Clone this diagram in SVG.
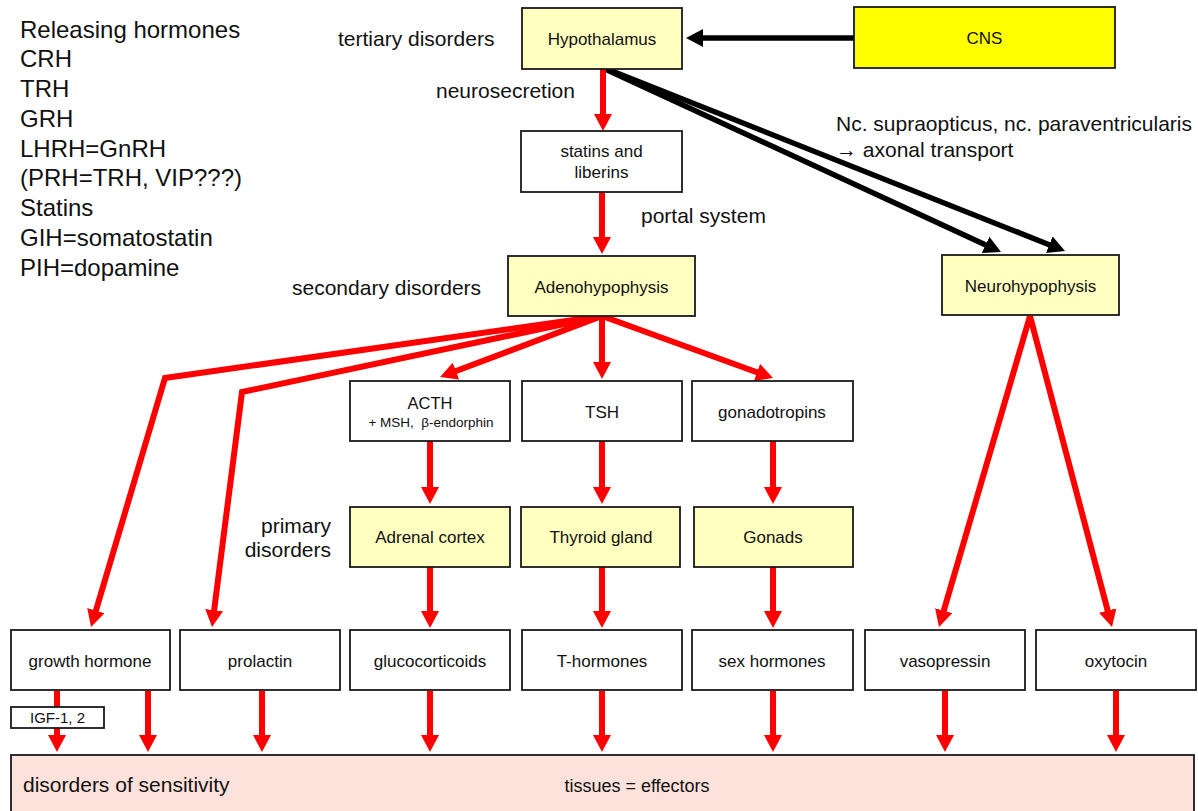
<svg xmlns="http://www.w3.org/2000/svg" width="1198" height="811" viewBox="0 0 1198 811">
<style>
text{font-family:"Liberation Sans",Arial,sans-serif;fill:#111}
.box{fill:#fff;stroke:#1a1a1a;stroke-width:1.8}
.yel{fill:#ffffc0;stroke:#1a1a1a;stroke-width:1.8}
.cns{fill:#ffff00;stroke:#1a1a1a;stroke-width:1.8}
.pink{fill:#fde2db;stroke:#1a1a1a;stroke-width:1.8}
.nt{font-size:17px;text-anchor:middle}
.lbl{font-size:21px}
.big{font-size:24px}
.red{fill:none;stroke:#ff0000;stroke-width:6;marker-end:url(#ar)}
.blk{fill:none;stroke:#000;stroke-width:5.5;marker-end:url(#ab)}
</style>
<defs>
<marker id="ar" markerUnits="userSpaceOnUse" markerWidth="18" markerHeight="18" refX="2" refY="9" orient="auto" viewBox="0 0 18 18">
<path d="M0,0 L17,9 L0,18 z" fill="#ff0000"/>
</marker>
<marker id="ab" markerUnits="userSpaceOnUse" markerWidth="18" markerHeight="18" refX="2" refY="9" orient="auto" viewBox="0 0 18 18">
<path d="M0,0 L17,9 L0,18 z" fill="#000"/>
</marker>
</defs>
<rect width="1198" height="811" fill="#fff"/>

<g id="labels">
<text class="big" x="20" y="37.5">Releasing hormones</text>
<text class="big" x="20" y="67.3">CRH</text>
<text class="big" x="20" y="97">TRH</text>
<text class="big" x="20" y="127">GRH</text>
<text class="big" x="20" y="156.5">LHRH=GnRH</text>
<text class="big" x="20" y="186">(PRH=TRH, VIP???)</text>
<text class="big" x="20" y="216">Statins</text>
<text class="big" x="20" y="246">GIH=somatostatin</text>
<text class="big" x="20" y="275.5">PIH=dopamine</text>
<text class="lbl" x="338" y="46">tertiary disorders</text>
<text class="lbl" x="436" y="98">neurosecretion</text>
<text class="lbl" x="641" y="223">portal system</text>
<text class="lbl" x="292" y="295">secondary disorders</text>
<text class="lbl" x="331" y="533" text-anchor="end">primary</text>
<text class="lbl" x="331" y="557" text-anchor="end">disorders</text>
<text class="lbl" x="836" y="131">Nc. supraopticus, nc. paraventricularis</text>
<text class="lbl" x="836" y="157">→ axonal transport</text>
</g>

<g id="connectors">
<line class="blk" x1="854" y1="38" x2="701" y2="38"/>
<line class="blk" x1="607" y1="69" x2="1051.1" y2="245.5"/>
<line class="blk" x1="605" y1="69" x2="987.4" y2="245.7"/>
<line class="red" x1="603" y1="69" x2="603" y2="116"/>
<line class="red" x1="602" y1="192" x2="602" y2="239"/>
<line class="red" x1="602" y1="316" x2="602" y2="364"/>
<line class="red" x1="602" y1="316" x2="454.1" y2="371.8"/>
<line class="red" x1="602" y1="316" x2="758.9" y2="373"/>
<polyline class="red" points="602,316 165,378 95.3,612.6"/>
<polyline class="red" points="602,316 242,392 213.9,612.1"/>
<line class="red" x1="430" y1="441" x2="430" y2="489"/>
<line class="red" x1="602" y1="441" x2="602" y2="489"/>
<line class="red" x1="773" y1="441" x2="773" y2="489"/>
<line class="red" x1="430" y1="567" x2="430" y2="613"/>
<line class="red" x1="602" y1="567" x2="602" y2="613"/>
<line class="red" x1="773" y1="567" x2="773" y2="613"/>
<line class="red" x1="1030" y1="316" x2="943.2" y2="612.6"/>
<line class="red" x1="1030" y1="316" x2="1108.2" y2="612.5"/>
<line class="red" x1="57" y1="691" x2="57" y2="737"/>
<line class="red" x1="148" y1="691" x2="148" y2="737"/>
<line class="red" x1="262" y1="691" x2="262" y2="737"/>
<line class="red" x1="430" y1="691" x2="430" y2="737"/>
<line class="red" x1="602" y1="691" x2="602" y2="737"/>
<line class="red" x1="773" y1="691" x2="773" y2="737"/>
<line class="red" x1="945" y1="691" x2="945" y2="737"/>
<line class="red" x1="1116" y1="691" x2="1116" y2="737"/>
</g>

<g id="hypothalamus"><rect class="yel" x="522" y="8" width="160" height="61"/><text class="nt" x="602" y="45">Hypothalamus</text></g>
<g id="cns"><rect class="cns" x="854" y="7" width="261" height="61"/><text class="nt" x="984.5" y="44">CNS</text></g>
<g id="statins"><rect class="box" x="521" y="131" width="161" height="61"/><text class="nt" x="601.5" y="157">statins and</text><text class="nt" x="601.5" y="178">liberins</text></g>
<g id="adenohypophysis"><rect class="yel" x="508" y="256" width="187" height="60"/><text class="nt" x="601.5" y="292.5">Adenohypophysis</text></g>
<g id="neurohypophysis"><rect class="yel" x="942" y="255" width="177" height="60"/><text class="nt" x="1030.5" y="292">Neurohypophysis</text></g>
<g id="acth"><rect class="box" x="350" y="381" width="160" height="60"/><text class="nt" x="430" y="409" style="font-size:16.5px">ACTH</text><text class="nt" x="431" y="427" style="font-size:13.5px">+ MSH,&#160; β-endorphin</text></g>
<g id="tsh"><rect class="box" x="522" y="381" width="160" height="60"/><text class="nt" x="602" y="417.5">TSH</text></g>
<g id="gonadotropins"><rect class="box" x="692" y="381" width="161" height="60"/><text class="nt" x="772" y="418">gonadotropins</text></g>
<g id="adrenal-cortex"><rect class="yel" x="350" y="507" width="160" height="60"/><text class="nt" x="430" y="543">Adrenal cortex</text></g>
<g id="thyroid-gland"><rect class="yel" x="521" y="507" width="159" height="60"/><text class="nt" x="601" y="543">Thyroid gland</text></g>
<g id="gonads"><rect class="yel" x="694" y="507" width="159" height="60"/><text class="nt" x="773" y="543">Gonads</text></g>
<g id="growth-hormone"><rect class="box" x="11" y="630" width="159" height="60"/><text class="nt" x="90" y="667">growth hormone</text></g>
<g id="prolactin"><rect class="box" x="180" y="630" width="160" height="60"/><text class="nt" x="260" y="667">prolactin</text></g>
<g id="glucocorticoids"><rect class="box" x="350" y="630" width="160" height="60"/><text class="nt" x="430" y="667">glucocorticoids</text></g>
<g id="t-hormones"><rect class="box" x="522" y="630" width="160" height="60"/><text class="nt" x="602" y="667">T-hormones</text></g>
<g id="sex-hormones"><rect class="box" x="692" y="630" width="161" height="60"/><text class="nt" x="772" y="667">sex hormones</text></g>
<g id="vasopressin"><rect class="box" x="865" y="630" width="160" height="60"/><text class="nt" x="945" y="667">vasopressin</text></g>
<g id="oxytocin"><rect class="box" x="1036" y="630" width="160" height="60"/><text class="nt" x="1116" y="667">oxytocin</text></g>
<g id="igf"><rect class="box" x="11" y="707" width="93" height="21"/><text class="nt" x="57.5" y="723" style="font-size:15px">IGF-1, 2</text></g>
<g id="tissues"><rect class="pink" x="11" y="755" width="1183" height="62"/><text class="lbl" x="23" y="792">disorders of sensitivity</text><text class="nt" x="637" y="792" style="font-size:18px">tissues = effectors</text></g>
</svg>
